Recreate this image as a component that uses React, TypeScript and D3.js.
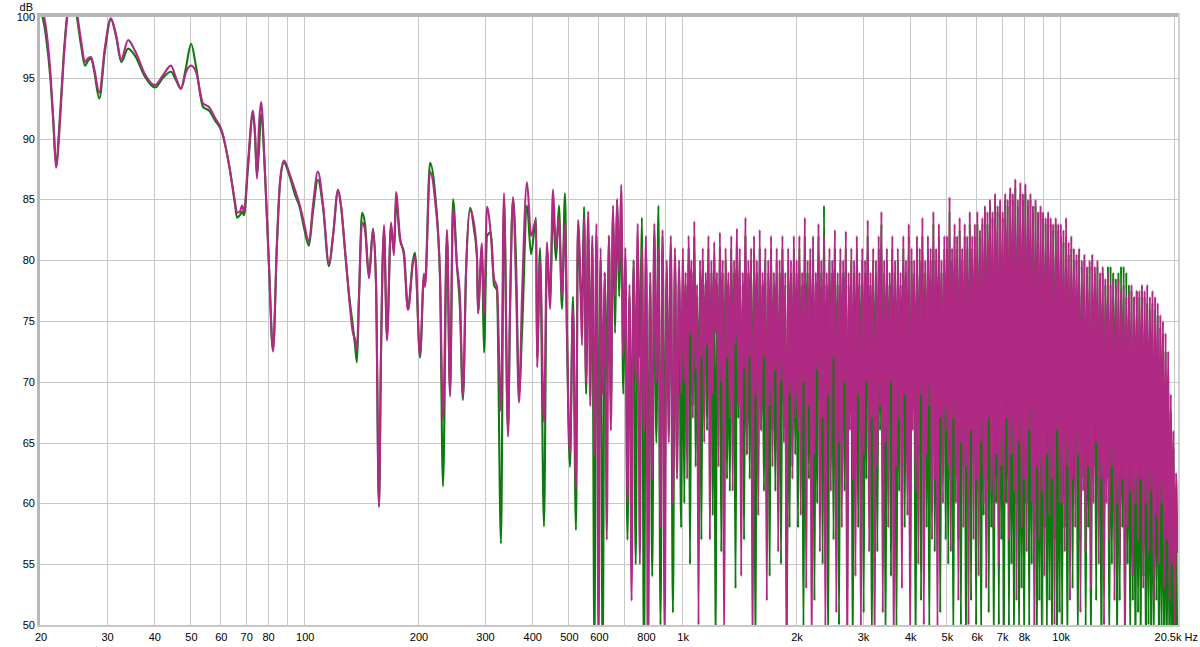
import React from 'react';
import * as d3 from 'd3';

// ---------- DATA ----------
// Smooth / resolvable low-frequency part (Hz)
const lowFreqs = [
  20, 20.7, 21.3, 21.7, 22.05, 22.6, 23.1, 23.7, 24.3, 25.1, 25.7, 26.3, 26.8, 27.3, 27.8, 28.7, 29.7, 30.8, 31.8, 32.8,
  34.2, 35.7, 37.9, 40.3, 42.3, 44.4, 45.8, 47.2, 48.7, 50.2, 51.7, 54.0, 56.0, 58.1, 60.6, 63.3, 65.6, 66.4, 67.6, 68.5,
  69.3, 71.0, 73.2, 74.1, 75.0, 75.9, 76.9, 78.8, 80.7, 82.7, 84.7, 86.3, 88.4, 91.7, 94.5, 97.4, 100, 102.9, 105.5, 108.7,
  112.2, 116.3, 119.2, 122.9, 125.1, 128.2, 131.4, 134.6, 136.3, 137.9, 139.6, 142.2, 144.8, 148.4, 152.1, 154.9, 157.7, 159.6, 162.6, 165.6,
  169.7, 172.8, 174.9, 179.2, 183.7, 188.2, 194.0, 196.4, 202.5, 207.4, 208.7, 215.2, 221.8, 228.7, 232.9, 238.7, 243.1, 247.6, 253.7, 258.3,
  263.0, 268.0, 274.6, 281.4, 286.5, 288.2, 295.3, 299.0, 304.5, 312.0, 317.7, 323.6, 331.6, 337.7, 346.1, 350.4, 356.8, 363.4, 370.1, 376.9,
  388.6, 398.2, 410.6, 413.1, 420.7, 430.9, 438.9, 447.0, 455.2, 463.6, 472.1, 480.8, 489.7, 495.7, 504.8, 514.1, 523.6, 530.0,
];

const magentaLow = [
  101, 99.3, 95.5, 91.5, 87.6, 91.5, 96.5, 100.5, 103, 100.2, 98.0, 96.3, 96.6, 96.7, 95.8, 93.8, 97.5, 99.9, 98.5, 96.5,
  98.1, 97.2, 95.3, 94.4, 95.2, 96.0, 95.0, 94.1, 95.5, 96.0, 95.5, 92.9, 92.6, 91.7, 90.6, 87.8, 84.8, 83.9, 84.0, 84.5,
  84.0, 88.0, 92.3, 90.5, 86.7, 91.0, 93.0, 87.0, 79.5, 72.5, 81.5, 86.5, 88.2, 87.0, 85.8, 84.5, 83.0, 81.5, 84.5, 87.3,
  84.5, 79.7, 82.0, 85.8, 84.5, 80.9, 77.0, 74.0, 73.5, 72.6, 77.0, 83.1, 82.5, 78.5, 82.5, 78.0, 59.7, 72.0, 82.9, 73.4,
  83.1, 80.4, 85.6, 81.9, 80.3, 75.9, 79.8, 80.3, 72.2, 78.9, 77.8, 87.3, 85.0, 78.9, 66.9, 82.5, 68.8, 84.2, 79.5, 77.0,
  68.8, 79.0, 84.1, 83.0, 80.3, 75.6, 81.4, 75.5, 84.4, 81.9, 78.5, 77.8, 67.6, 85.5, 65.5, 76.0, 85.2, 78.0, 68.3, 77.0,
  86.4, 82.0, 83.3, 71.2, 80.0, 66.7, 81.5, 76.0, 85.8, 81.0, 83.5, 77.0, 83.0, 74.0, 64.1, 76.0, 61.3, 83.3,
];

const greenLow = [
  100.8, 98.6, 95.0, 91.2, 88.0, 92.0, 96.8, 100.8, 103, 99.8, 97.6, 96.0, 96.4, 96.6, 95.6, 93.3, 97.2, 99.8, 98.4, 96.3,
  97.4, 96.8, 95.1, 94.2, 95.0, 95.5, 94.8, 94.1, 95.9, 97.8, 96.0, 92.6, 92.3, 91.5, 90.5, 87.8, 84.6, 83.5, 83.7, 84.0,
  83.7, 87.6, 92.0, 90.3, 87.0, 89.0, 92.0, 87.0, 79.5, 72.6, 81.2, 86.3, 88.0, 86.8, 85.4, 84.3, 82.6, 81.2, 84.0, 86.6,
  84.3, 79.5, 82.0, 85.7, 84.5, 80.8, 77.2, 74.5, 73.0, 71.6, 76.8, 83.9, 83.0, 78.8, 82.6, 78.0, 59.8, 72.0, 82.4, 73.8,
  82.8, 80.8, 84.8, 81.7, 80.6, 76.0, 80.0, 80.6, 72.0, 78.5, 78.0, 88.0, 85.6, 78.5, 61.4, 82.0, 69.2, 85.0, 79.5, 76.0,
  68.5, 79.0, 84.3, 82.5, 80.2, 75.8, 81.0, 72.4, 82.0, 82.3, 78.0, 77.5, 56.7, 85.0, 66.0, 76.0, 85.0, 80.0, 69.0, 74.0,
  84.5, 80.5, 83.5, 72.0, 81.0, 58.1, 81.0, 77.0, 84.0, 80.0, 84.5, 76.0, 85.5, 74.0, 63.0, 77.0, 57.8, 83.0,
];

// Dense high-frequency part: band edges (Hz) and the readings inside each band
const denseEdges = [533, 1000, 2000, 5000, 10000, 20500];

const magentaDense = [
  [80, 73, 83.5, 70, 84, 68, 82, 64, 83, 48, 81, 69, 79, 57, 82, 66, 84.5, 77, 85, 79,
   86.2, 72, 81, 60, 78, 52, 80, 70, 83, 55, 81, 66, 82, 47, 79, 62, 83, 70, 81, 58,
   82.5, 49, 80, 65, 82, 60, 81, 62, 80, 69],
  [81, 70, 79, 62, 82, 74, 80, 67, 83.2, 71, 78, 50, 80, 72, 81, 65, 79, 73, 82, 57,
   80, 69, 81.5, 74, 79, 63, 82.3, 70, 80, 48, 81, 72, 79, 67, 82, 61, 80, 73, 82.6, 68,
   81, 54, 79, 71, 83.5, 64, 80, 72, 81, 47, 82, 69, 80, 59, 82.5, 66, 79, 72, 81, 52,
   80, 68, 82, 63, 79, 71, 81, 56, 80, 70, 82, 65, 79, 49, 81, 69, 80, 62, 82, 67],
  [80, 66, 82, 59, 79, 70, 83.5, 53, 80, 68, 81, 47, 82, 64, 79, 71, 83, 56, 80, 67,
   82, 49, 79, 69, 81, 61, 80, 72, 82.5, 51, 79, 65, 81, 58, 80, 70, 82.4, 46, 79, 66,
   81, 62, 80, 54, 82, 69, 79, 49, 81, 64, 80, 70, 83.3, 56, 79, 67, 81, 47, 80, 63,
   82, 68, 84, 51, 80, 65, 81, 58, 79, 70, 82, 47, 80, 63, 81, 67, 79, 53, 82, 69,
   80, 59, 83, 48, 81, 66, 80, 61, 82, 55, 81, 69, 83.5, 50, 80, 64, 82, 68, 81, 57,
   84, 62, 81, 49, 83, 67, 80, 60, 82, 66],
  [82, 63, 85.2, 56, 81, 67, 83, 60, 82, 52, 83.5, 65, 81, 58, 83, 63, 82, 50, 84, 66,
   82, 57, 83, 62, 84, 54, 82.5, 65, 83.5, 60, 84.5, 53, 84, 67, 85, 61, 84, 58, 85.5, 64,
   84.5, 55, 85, 63, 84, 60, 85.5, 67, 85, 57, 86, 64, 85.5, 61, 86.7, 52, 85, 65, 86.4, 58,
   85.5, 62, 86.3, 56, 85, 66, 85.5, 60, 84.5, 49, 85, 63, 84, 57, 84.5, 61, 84, 54, 83.5, 64,
   84, 59, 83.5, 62, 83, 50, 83.5, 66, 83, 60],
  [83, 60, 82.5, 56, 83.5, 63, 81.5, 52, 82, 62, 81, 58, 80.5, 64, 81, 51, 80, 61, 80.5, 56,
   79.5, 63, 80, 53, 80.5, 60, 79.5, 65, 80, 55, 79, 62, 79.5, 50, 78.5, 60, 79, 57, 78, 63,
   78.5, 52, 78, 60, 78.5, 55, 77.5, 62, 78, 50, 77, 58, 77.5, 61, 78, 54, 77, 60, 77.5, 57,
   77.5, 62, 78, 53, 77.5, 60, 78, 56, 77, 61, 77.5, 52, 77, 59, 76.5, 55, 75.5, 60, 75, 53,
   74, 57, 72.5, 52, 69, 55, 66, 50, 62.5, 56],
];

const greenDense = [
  [79, 76, 84.4, 69, 83, 71, 81, 48, 82, 62, 80, 47, 79, 70, 82, 68, 84, 74, 85, 77,
   84, 69, 80, 57, 77, 64, 80, 55, 81, 72, 83.5, 47, 81, 60, 78, 54, 82, 65, 84.5, 50,
   82, 62, 79, 68, 81, 51, 80, 64, 79, 58],
  [80, 60, 78, 70, 81, 55, 79, 68, 82, 63, 77, 64, 79, 57, 80, 70, 78, 66, 81, 66,
   79, 59, 80, 47, 78, 69, 81, 56, 79, 64, 80, 62, 78, 61, 81, 70, 79, 53, 81, 67,
   80, 63, 78, 57, 82, 64, 79, 62, 80, 59, 81, 47, 79, 65, 81, 66, 78, 61, 80, 57,
   79, 54, 81, 66, 78, 61, 80, 60, 79, 55, 81, 67, 78, 46, 80, 58, 79, 63, 81, 64],
  [79, 58, 81, 67, 78, 49, 82, 70, 79, 62, 80, 65, 81, 52, 78, 60, 82, 69, 79, 55,
   84.5, 64, 78, 48, 80, 70, 79, 57, 81, 66, 78, 50, 80, 68, 79, 61, 81, 53, 78, 69,
   80, 47, 79, 66, 81, 58, 78, 67, 80, 51, 79, 62, 82, 69, 78, 48, 80, 64, 79, 56,
   81, 66, 83, 59, 79, 48, 80, 68, 78, 54, 81, 65, 79, 49, 80, 61, 78, 68, 81, 58,
   79, 66, 82, 53, 80, 69, 79, 47, 81, 64, 80, 52, 82, 67, 79, 58, 81, 49, 80, 65,
   83, 56, 80, 68, 82, 51, 79, 64, 81, 57],
  [81, 55, 84, 62, 80, 48, 82, 64, 81, 57, 82.5, 50, 80, 63, 82, 47, 81, 60, 83, 52,
   81, 64, 82, 50, 83, 61, 82, 48, 83, 59, 84, 62, 83, 51, 84.5, 58, 83.5, 47, 85, 60,
   84, 50, 84.5, 57, 83.5, 46, 85, 60, 84.5, 49, 85.5, 55, 85, 47, 86, 60, 84.5, 48, 85.5, 53,
   85, 47, 85.5, 60, 84.5, 49, 85, 55, 84, 58, 84.5, 46, 83.5, 52, 84, 47, 83.5, 58, 83, 48,
   83.5, 52, 83, 47, 82.5, 57, 83, 46, 82.5, 51],
  [82, 50, 81.5, 58, 82, 47, 80.5, 60, 81, 53, 80, 64, 80, 48, 80.5, 57, 79.5, 62, 80, 49,
   79, 58, 79.5, 47, 80, 63, 79, 52, 79.5, 59, 78.5, 46, 79, 56, 78, 62, 79.5, 48, 79.5, 55,
   79, 60, 78.5, 47, 79, 52, 79.5, 58, 79.5, 46, 79, 55, 78, 48, 77.5, 52, 77, 46, 77.5, 51,
   77, 47, 77.5, 54, 77, 46, 76.5, 50, 76, 47, 76.5, 48, 76, 52, 75.5, 46, 74.5, 49, 74, 45,
   72.5, 48, 70.5, 46, 67.5, 47, 64.5, 45, 60, 46],
];

const gridFreqs = [
  30, 40, 50, 60, 70, 80, 90, 100, 200, 300, 400, 500, 600, 700, 800, 900,
  1000, 2000, 3000, 4000, 5000, 6000, 7000, 8000, 9000, 10000, 20000,
];
const xTickValues = [20, 30, 40, 50, 60, 70, 80, 100, 200, 300, 400, 500, 600, 800, 1000, 2000, 3000, 4000, 5000, 6000, 7000, 8000, 10000];
const xTickLabels = ['20', '30', '40', '50', '60', '70', '80', '100', '200', '300', '400', '500', '600', '800', '1k', '2k', '3k', '4k', '5k', '6k', '7k', '8k', '10k'];
const yTickValues = [50, 55, 60, 65, 70, 75, 80, 85, 90, 95, 100];

const GREEN = '#0d7a0d';
const MAGENTA = '#b02a84';
const FONT = '"Liberation Sans", Arial, sans-serif';

type Pt = [number, number];

function buildSeries(low: number[], dense: number[][]): Pt[] {
  const pts: Pt[] = lowFreqs.map((f, i) => [f, low[i]] as Pt);
  dense.forEach((vals, s) => {
    const f0 = denseEdges[s];
    const f1 = denseEdges[s + 1];
    const n = vals.length;
    vals.forEach((v, i) => {
      const t = (i + 0.5) / n;
      pts.push([f0 * Math.pow(f1 / f0, t), v]);
    });
  });
  return pts;
}

export default function App() {
  const W = 1200;
  const H = 647;
  const left = 40;
  const right = 1178;
  const top = 17;
  const bottom = 625;

  const x = d3.scaleLog().domain([20, 20500]).range([left, right]);
  const y = d3.scaleLinear().domain([50, 100]).range([bottom, top]);

  const line = d3
    .line<Pt>()
    .x((d) => x(d[0]))
    .y((d) => y(d[1]))
    .curve(d3.curveMonotoneX);

  const green = buildSeries(greenLow, greenDense);
  const magenta = buildSeries(magentaLow, magentaDense);

  return (
    <svg
      width={W}
      height={H}
      style={{ position: 'absolute', left: 0, top: 0, background: '#fff' }}
      fontFamily={FONT}
    >
      <defs>
        <clipPath id="plotClip">
          <rect x={left} y={top} width={right - left} height={bottom - top} />
        </clipPath>
      </defs>
      <rect x={0} y={0} width={W} height={H} fill="#fff" />

      {/* grid */}
      <g stroke="#c8c8c8" strokeWidth={1}>
        {gridFreqs.map((f) => (
          <line key={'v' + f} x1={Math.round(x(f)) + 0.5} x2={Math.round(x(f)) + 0.5} y1={top} y2={bottom} />
        ))}
        {yTickValues.slice(1, -1).map((v) => (
          <line key={'h' + v} x1={left} x2={right} y1={Math.round(y(v)) + 0.5} y2={Math.round(y(v)) + 0.5} />
        ))}
      </g>

      {/* data */}
      <g clipPath="url(#plotClip)" fill="none" strokeLinejoin="round" strokeLinecap="round">
        <path d={line(green) || ''} stroke={GREEN} strokeWidth={2.1} />
        <path d={line(magenta) || ''} stroke={MAGENTA} strokeWidth={2.1} />
      </g>

      {/* frame (sunken panel look) */}
      <rect x={37} y={13} width={right - 37 + 2} height={4} fill="#b8b8b8" />
      <rect x={37} y={13} width={3} height={bottom - 13 + 2} fill="#b8b8b8" />
      <rect x={right} y={13} width={2} height={bottom - 13 + 2} fill="#d2d2d2" />
      <rect x={37} y={bottom} width={right - 37 + 2} height={2} fill="#c8c8c8" />

      {/* y labels */}
      <g fontSize={11} fill="#000" textAnchor="end">
        {yTickValues.map((v) => (
          <text key={'yl' + v} x={35} y={y(v) + 4}>
            {v}
          </text>
        ))}
        <text x={33} y={11}>dB</text>
      </g>

      {/* x labels */}
      <g fontSize={11} fill="#000" textAnchor="middle">
        {xTickValues.map((f, i) => (
          <text key={'xl' + f} x={x(f) + 1} y={641}>
            {xTickLabels[i]}
          </text>
        ))}
        <text x={1198} y={641} textAnchor="end">20.5k Hz</text>
      </g>
    </svg>
  );
}
